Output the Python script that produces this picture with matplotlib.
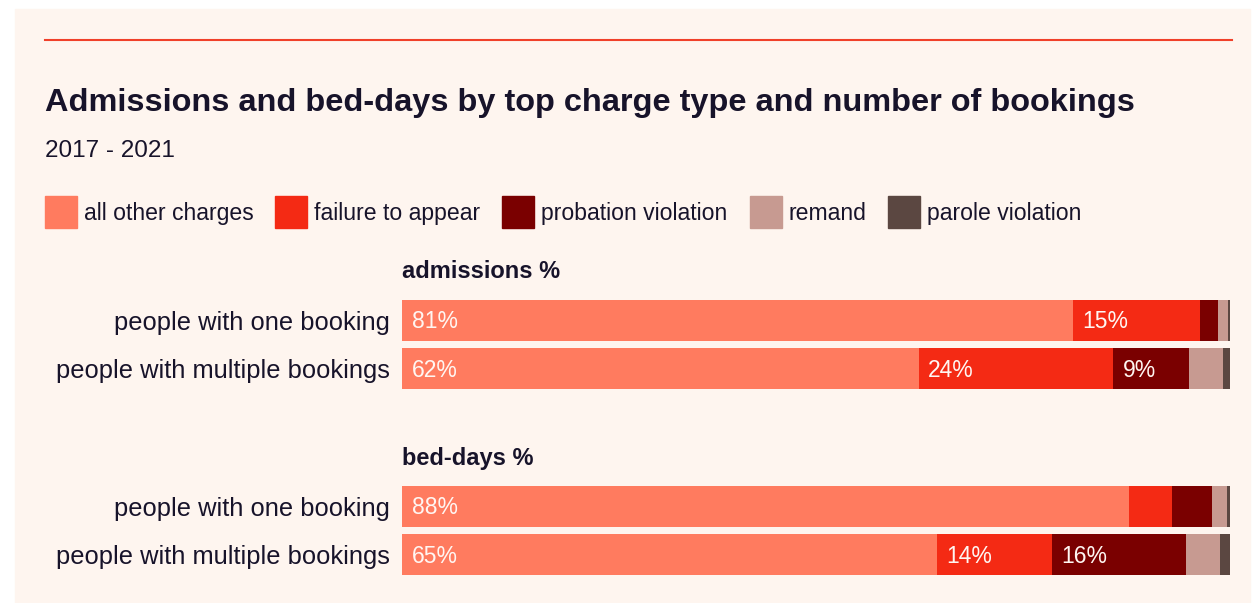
import matplotlib.pyplot as plt
from matplotlib.patches import Rectangle

# 数据
categories = ["all other charges", "failure to appear", "probation violation", "remand", "parole violation"]
colors = ["#FF7B5F", "#F42A14", "#7A0000", "#C79A91", "#5B4741"]
rows = ["people with one booking", "people with multiple bookings"]

admissions = {
    "people with one booking": [81.0, 15.4, 2.1, 1.3, 0.2],
    "people with multiple bookings": [62.4, 23.5, 9.1, 4.1, 0.9],
}
bed_days = {
    "people with one booking": [87.8, 5.2, 4.8, 1.8, 0.4],
    "people with multiple bookings": [64.6, 13.9, 16.2, 4.1, 1.2],
}

W, H = 1257, 603
BG = "#FEF5EF"
TXT = "#17132A"
FONT = "Liberation Sans"


def fx(px):
    return px / W


def fy(py):
    return 1 - py / H


def draw_block(fig, top_px, data):
    """在像素位置 top_px 处绘制一组堆叠横条"""
    ax = fig.add_axes([fx(402), fy(top_px + 97), fx(828), 97 / H])
    ax.set_facecolor("none")
    for i, row in enumerate(rows):
        left = 0
        for val, col in zip(data[row], colors):
            ax.barh(i, val, left=left, height=0.85, color=col, linewidth=0)
            if val >= 8:
                ax.text(left + 1.15, i + 0.03, f"{round(val)}%", color="#FFF6F2", va="center",
                        ha="left", fontsize=16.5, family=FONT)
            left += val
    ax.set_xlim(0, 100)
    ax.set_ylim(1.5, -0.5)
    ax.set_yticks(range(len(rows)))
    ax.set_yticklabels(rows, fontsize=18.4, color=TXT, family=FONT)
    ax.tick_params(axis="y", length=0, pad=8.5)
    ax.set_xticks([])
    for s in ax.spines.values():
        s.set_visible(False)
    return ax


fig = plt.figure(figsize=(W / 100, H / 100), dpi=100)
fig.patch.set_facecolor("white")
fig.add_artist(Rectangle((fx(15), 0), fx(1235), fy(9), color=BG, transform=fig.transFigure, zorder=-5))

# 顶部红线
fig.add_artist(plt.Line2D([fx(45), fx(1232)], [fy(40), fy(40)], color="#F0402A", lw=1.5))

# 标题
fig.text(fx(45), fy(103), "Admissions and bed-days by top charge type and number of bookings",
         fontsize=23.4, fontweight="bold", color=TXT, va="center", family=FONT)
fig.text(fx(45), fy(151), "2017 - 2021", fontsize=17.5, color=TXT, va="center", family=FONT)

# 图例
legend_x = [45, 275, 502, 750, 888]
for x, cat, col in zip(legend_x, categories, colors):
    fig.add_artist(Rectangle((fx(x), fy(228)), fx(32), 32 / H, color=col, transform=fig.transFigure))
    fig.text(fx(x + 39), fy(213), cat, fontsize=16.6, color=TXT, va="center", family=FONT)

# 分组标题
fig.text(fx(402), fy(272), "admissions %", fontsize=17, fontweight="bold", color=TXT, va="center", family=FONT)
fig.text(fx(402), fy(459), "bed-days %", fontsize=17, fontweight="bold", color=TXT, va="center", family=FONT)

draw_block(fig, 296, admissions)
draw_block(fig, 482, bed_days)

fig.savefig("out.png", dpi=100, facecolor=fig.get_facecolor())
